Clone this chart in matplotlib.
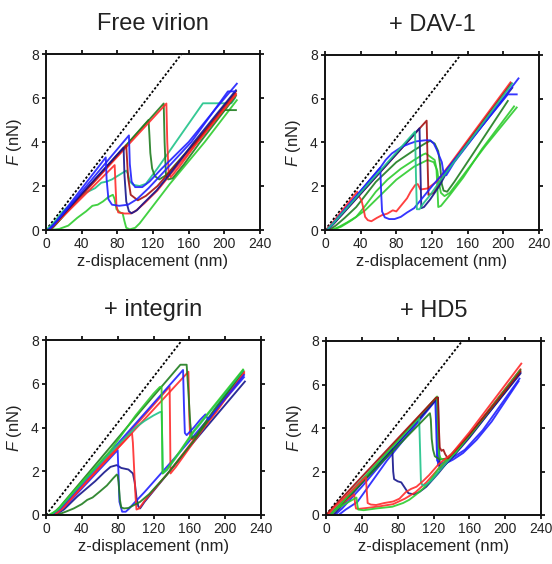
import matplotlib
matplotlib.use('Agg')
import matplotlib.pyplot as plt

plt.rcParams['font.family'] = ['Liberation Sans', 'DejaVu Sans']
plt.rcParams['mathtext.fontset'] = 'custom'
plt.rcParams['mathtext.it'] = 'Liberation Sans:italic'
plt.rcParams['mathtext.rm'] = 'Liberation Sans'

# ---------------- data (z-displacement nm, force nN) ----------------
TITLES = ["Free virion", "+ DAV-1", "+ integrin", "+ HD5"]
X_TICKS = [0, 40, 80, 120, 160, 200, 240]
Y_TICKS = [0, 2, 4, 6, 8]
REF_X = [0, 152]
REF_Y = [0, 8]

# Free virion
FV_BLUE1 = [(2,0),(8,0.2),(67,3.3),(68,2.3),(70,1.4),(74,1.15),(82,1.1),(92,1.15),(102,1.4),(115,1.9),(130,2.55),(163,4.0),(204,6.3),(212,6.3)]
FV_BLUE2 = [(3,0),(10,0.3),(93,4.3),(94,3.0),(96,2.2),(100,1.95),(108,1.95),(116,2.2),(130,2.8),(160,4.0),(190,5.5),(214,6.65)]
FV_NAVY = [(3,0),(10,0.3),(87,3.75),(88,2.5),(90,1.3),(93,0.85),(96,0.76),(102,0.9),(109,1.2),(124,1.8),(140,2.6),(166,4.0),(213,6.35)]
FV_RED1 = [(4,0),(10,0.25),(77,2.95),(78,2.0),(79,1.1),(81,0.8),(88,0.75),(95,0.75),(100,0.85),(110,1.2),(125,1.8),(140,2.55),(170,4.0),(213,6.2)]
FV_RED2 = [(4,0),(10,0.25),(135,5.75),(136,4.0),(137.5,2.6),(140,2.4),(150,2.9),(170,4.0),(213,6.15)]
FV_DARKRED = [(4,0),(10,0.28),(90,3.85),(92,2.4),(95,1.6),(103,1.35),(112,1.55),(125,2.0),(140,2.7),(168,4.0),(213,6.3)]
FV_DKGREEN1 = [(5,0),(12,0.3),(115,5.0),(116,4.3),(117,3.5),(119,2.8),(122,2.45),(127,2.3),(135,2.5),(150,3.2),(172,4.2),(200,5.45),(213,5.45)]
FV_DKGREEN2 = [(5,0),(12,0.3),(132,5.75),(133,4.0),(134.5,2.5),(137,2.3),(142,2.35),(155,3.0),(172,3.95),(213,6.1)]
FV_TEAL = [(0,0),(8,0.3),(20,0.9),(35,1.4),(45,1.7),(55,1.9),(62,2.15),(68,2.2),(74,2.3),(80,2.45),(86,2.6),(90,2.7),(92,2.55),(94,2.2),(98,2.05),(105,2.0),(112,2.1),(125,2.8),(176,5.76),(208,5.76),(212,6.0)]
FV_GREEN = [(5,0),(15,0.05),(25,0.2),(35,0.55),(45,0.85),(52,1.1),(58,1.15),(64,1.3),(70,1.5),(75,1.6),(77,1.4),(79,0.95),(83,0.8),(86,0.75),(88,0.4),(90,0.1),(94,0.03),(100,0.1),(105,0.3),(139,2.1),(178,4.0),(214,5.9)]

# + DAV-1
DV_RED = [(1,0),(8,0.3),(36,1.75),(38,1.55),(41,1.35),(43,1.0),(45,0.6),(48,0.45),(52,0.4),(58,0.55),(64,0.68),(70,0.75),(76,0.9),(80,0.85),(86,1.15),(92,1.45),(96,1.75),(101,2.05),(104,2.1),(107,1.85),(115,1.9),(125,2.2),(140,3.0),(208,6.75)]
DV_DARKRED = [(3,0),(10,0.3),(114,5.0),(115,3.2),(116,1.6),(122,1.7),(136,2.7),(209,6.7)]
DV_BLUE1 = [(2,0),(8,0.25),(62,2.85),(63,1.7),(64,0.85),(67,0.58),(72,0.5),(78,0.5),(85,0.6),(92,0.8),(100,1.0),(110,1.5),(122,2.1),(135,2.7),(205,6.2),(215,6.2)]
DV_BLUE2 = [(2,0),(8,0.25),(62,2.85),(68,3.2),(75,3.5),(86,3.8),(95,3.95),(102,4.05),(112,4.1),(118,4.1),(122,3.95),(125,3.7),(128,3.4),(131,3.1),(133,2.6),(136,2.5),(145,3.1),(217,6.93)]
DV_NAVY = [(3,0),(10,0.3),(106,4.65),(107,2.8),(108,1.0),(111,1.05),(118,1.4),(128,2.0),(140,2.9),(210,6.5)]
DV_TEAL = [(2,0),(8,0.25),(101,4.5),(102,2.5),(103,0.95),(106,0.95),(110,1.2),(118,1.6),(130,2.3),(210,6.7)]
DV_DKGREEN = [(5,0),(12,0.2),(22,0.55),(35,1.05),(57,2.2),(80,3.1),(100,3.65),(112,3.95),(118,4.08),(123,3.95),(127,3.6),(129,3.0),(131,2.1),(133,1.8),(137,1.75),(145,2.2),(167,3.55),(205,5.9)]
DV_GREEN1 = [(8,0),(16,0.15),(25,0.35),(35,0.6),(45,1.1),(57,1.75),(70,2.3),(85,2.8),(100,3.2),(110,3.45),(113,3.5),(118,3.35),(123,3.2),(125,2.8),(126,2.0),(127,1.05),(130,1.1),(140,1.6),(155,2.4),(176,3.7),(212,5.65)]
DV_GREEN2 = [(8,0),(18,0.15),(30,0.45),(45,0.9),(60,1.5),(80,2.3),(100,2.9),(115,3.2),(122,3.1),(126,2.7),(128,2.1),(130,1.7),(134,1.55),(140,1.7),(155,2.5),(180,3.85),(215,5.6)]

# + integrin
IN_GREEN = [(3,0),(12,0.2),(25,0.8),(50,1.95),(72,2.95),(100,4.55),(120,5.55),(127,5.85),(129,5.87),(129.5,4.0),(130,1.9),(135,2.1),(150,2.95),(165,3.85),(220,6.65)]
IN_TEAL = [(5,0),(15,0.3),(30,1.0),(60,2.35),(85,3.4),(100,4.0),(110,4.3),(120,4.55),(127,4.7),(129,4.72),(130,3.0),(130.5,1.9),(135,2.05),(150,2.9),(165,3.8),(220,6.6)]
IN_DKGREEN1 = [(6,0),(15,0.35),(105,4.72),(150,6.87),(157,6.87),(159,5.6),(161,4.2),(163,3.5),(168,3.65),(190,4.95),(220,6.6)]
IN_DKGREEN2 = [(12,0),(22,0.15),(31,0.3),(40,0.5),(46,0.69),(52,0.8),(60,1.07),(68,1.35),(75,1.68),(79,1.85),(80,1.8),(81,1.5),(82.5,0.7),(84,0.35),(87,0.3),(92,0.32),(98,0.45),(105,0.6),(115,0.95),(135,1.85),(165,3.4),(220,6.6)]
IN_RED1 = [(8,0),(18,0.35),(96,3.75),(97,3.3),(98.5,2.0),(100,0.8),(101,0.25),(104,0.3),(110,0.65),(139,2.05),(221,6.45)]
IN_RED2 = [(10,0),(20,0.35),(138,5.87),(138.5,4.0),(139,1.9),(145,2.2),(221,6.55)]
IN_RED3 = [(8,0),(18,0.3),(159,6.55),(160,4.5),(161,3.45),(166,3.5),(190,4.7),(221,6.5)]
IN_BLUE1 = [(8,0),(15,0.15),(25,0.55),(80,2.97),(81,1.8),(82,0.6),(85,0.15),(89,0.15),(93,0.3),(98,0.53),(110,1.05),(150,2.9),(221,6.3)]
IN_BLUE2 = [(6,0),(16,0.3),(153,6.63),(154,5.0),(155,3.75),(157,3.65),(165,4.0),(172,4.35),(178,4.6),(181,4.35),(221,6.4)]
IN_NAVY = [(10,0),(20,0.25),(35,0.85),(55,1.55),(65,1.95),(72,2.2),(79,2.28),(84,2.15),(92,2.08),(97,1.9),(99,1.5),(101,0.8),(103,0.4),(105,0.3),(110,0.6),(160,3.1),(222,6.1)]

# + HD5
HD_RED1 = [(2,0),(8,0.3),(44.5,1.75),(45.5,1.1),(46.5,0.55),(50,0.48),(56,0.46),(65,0.55),(75,0.62),(82,0.75),(89,1.05),(95,1.2),(101,1.3),(108,1.55),(115,1.83),(126,2.35),(140,2.8),(160,3.8),(218,6.96)]
HD_RED2 = [(3,0),(10,0.3),(31.5,0.95),(32.5,0.5),(33.5,0.3),(36,0.28),(45,0.32),(60,0.4),(75,0.5),(88,0.75),(100,1.05),(112,1.5),(125,2.1),(140,2.75),(165,3.95),(217,6.7)]
HD_DARKRED = [(0,0),(8,0.35),(123,5.4),(125,5.4),(126,4.0),(127,3.1),(129,2.95),(131,3.0),(133,2.8),(136,2.6),(145,3.0),(160,3.7),(190,5.2),(217,6.6)]
HD_GREEN1 = [(4,0),(10,0.25),(34,0.8),(35,0.45),(36,0.25),(42,0.22),(56,0.3),(74,0.38),(86,0.55),(93,0.7),(100,0.92),(108,1.2),(115,1.5),(126,2.15),(140,2.8),(165,3.9),(216,6.6)]
HD_GREEN2 = [(5,0),(12,0.3),(124,5.45),(125,4.0),(126,2.8),(128,2.6),(134,2.5),(145,2.9),(165,3.9),(216,6.6)]
HD_DKGREEN = [(5,0),(12,0.3),(116,4.68),(117,4.4),(118,3.5),(119.5,3.0),(121.5,2.7),(127,2.55),(135,2.6),(145,2.95),(165,3.9),(217,6.66)]
HD_TEAL = [(3,0),(10,0.3),(104,4.45),(105,3.0),(106,1.5),(108,1.35),(112,1.4),(118,1.6),(128,2.1),(145,2.9),(165,3.9),(216,6.6)]
HD_NAVY1 = [(5,0),(12,0.3),(74,3.07),(75,2.0),(76,1.65),(80,1.55),(84,1.5),(88,1.25),(92,1.0),(98,0.95),(104,1.05),(112,1.3),(125,1.9),(140,2.65),(160,3.6),(217,6.5)]
HD_NAVY2 = [(8,0),(15,0.3),(125,5.4),(126,3.5),(127,2.1),(130,2.2),(140,2.6),(160,3.55),(217,6.55)]
HD_BLUE1 = [(14,0),(22,0.25),(35,0.6),(68,2.5),(123,5.3),(124,4.0),(125,2.3),(128,2.2),(135,2.4),(142,2.55),(153,2.85),(168,3.45),(185,4.3),(215,6.15)]
HD_BLUE2 = [(10,0),(18,0.3),(40,1.3),(120,5.2),(122,5.25),(123,4.0),(124,2.5),(128,2.35),(140,2.6),(155,3.0),(175,3.9),(216,6.27)]

COLORS = {
    'red': '#ff2b2b', 'darkred': '#a31010', 'blue': '#2020ff',
    'navy': '#15158c', 'green': '#2ecc2e', 'darkgreen': '#1f7d1f',
    'teal': '#20c38a',
}

PANELS = [
    [(FV_GREEN, 'green'), (FV_TEAL, 'teal'), (FV_DKGREEN1, 'darkgreen'), (FV_DKGREEN2, 'darkgreen'),
     (FV_RED1, 'red'), (FV_RED2, 'red'), (FV_DARKRED, 'darkred'), (FV_NAVY, 'navy'),
     (FV_BLUE1, 'blue'), (FV_BLUE2, 'blue')],
    [(DV_GREEN2, 'green'), (DV_GREEN1, 'green'), (DV_DKGREEN, 'darkgreen'), (DV_RED, 'red'),
     (DV_DARKRED, 'darkred'), (DV_NAVY, 'navy'), (DV_BLUE1, 'blue'), (DV_BLUE2, 'blue'),
     (DV_TEAL, 'teal')],
    [(IN_NAVY, 'navy'), (IN_BLUE1, 'blue'), (IN_RED1, 'red'), (IN_RED2, 'red'), (IN_RED3, 'red'),
     (IN_DKGREEN2, 'darkgreen'), (IN_DKGREEN1, 'darkgreen'), (IN_BLUE2, 'blue'),
     (IN_TEAL, 'teal'), (IN_GREEN, 'green')],
    [(HD_BLUE1, 'blue'), (HD_BLUE2, 'blue'), (HD_NAVY1, 'navy'), (HD_NAVY2, 'navy'),
     (HD_RED2, 'red'), (HD_GREEN1, 'green'), (HD_TEAL, 'teal'), (HD_DKGREEN, 'darkgreen'),
     (HD_GREEN2, 'green'), (HD_DARKRED, 'darkred'), (HD_RED1, 'red')],
]

W, H = 552, 564
AX_PIX = [(46, 54, 214, 176), (325, 55, 214, 175), (46, 340, 215, 175), (326, 341, 215, 174)]

fig = plt.figure(figsize=(W / 100, H / 100), dpi=100)
for (l, t, w, h), title, curves in zip(AX_PIX, TITLES, PANELS):
    ax = fig.add_axes([l / W, 1 - (t + h) / H, w / W, h / H])
    ax.plot(REF_X, REF_Y, color='black', lw=1.3, linestyle=(0, (1.3, 1.1)), zorder=1)
    for pts, c in curves:
        xs = [p[0] for p in pts]
        ys = [p[1] for p in pts]
        ax.plot(xs, ys, color=COLORS[c], lw=1.35, alpha=0.9, solid_joinstyle='round', zorder=2)
    ax.set_xlim(0, 240)
    ax.set_ylim(0, 8)
    ax.set_xticks(X_TICKS)
    ax.set_yticks(Y_TICKS)
    ax.tick_params(direction='out', length=3.2, width=1.4, top=True, right=True,
                   labeltop=False, labelright=False, labelsize=10, pad=2, colors='#222222')
    for s in ax.spines.values():
        s.set_linewidth(1.4)
        s.set_color('#111111')
    ax.set_xlabel('z-displacement (nm)', fontsize=12, labelpad=2, color='#222222')
    ax.set_ylabel('$F$ (nN)', fontsize=12, labelpad=5, color='#222222')
    ax.set_title(title, fontsize=17, pad=17, color='#222222')

fig.savefig('out.png', dpi=100)
